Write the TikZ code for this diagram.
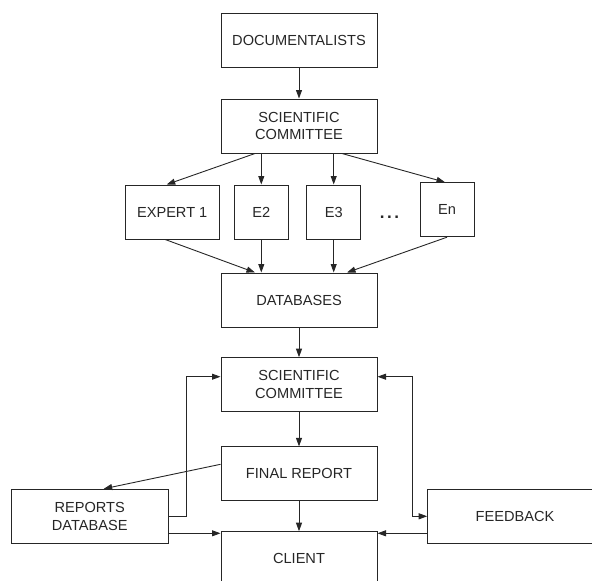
\documentclass[tikz,border=0pt]{standalone}
\usepackage{fontspec}
\setmainfont{Liberation Sans}
\usetikzlibrary{arrows.meta,positioning}

\begin{document}
\begin{tikzpicture}[x=1pt, y=-1pt,
    box/.style={draw=black!85, line width=1pt, minimum width=156pt, minimum height=54pt, inner sep=2pt, align=center, text=black!85, font=\fontsize{14.6}{17.6}\selectfont},
    arr/.style={-{Triangle[length=8.5pt, width=6pt]}, line width=0.9pt, draw=black!85},
    biarr/.style={{Triangle[length=8.5pt, width=6pt]}-{Triangle[length=8.5pt, width=6pt]}, line width=0.9pt, draw=black!85}
]
\clip (0,0) rectangle (592,581);
% top chain
\node[box] (doc) at (299,40) {DOCUMENTALISTS};
\node[box] (sc1) at (299,126) {SCIENTIFIC\\COMMITTEE};
\node[box, minimum width=94pt] (e1) at (172.2,212) {EXPERT 1};
\node[box, minimum width=54pt] (e2) at (261.3,212) {E2};
\node[box, minimum width=54pt] (e3) at (333.7,212) {E3};
\node[inner sep=0pt, anchor=base, text=black!85, font=\fontsize{17}{17}\selectfont\bfseries] (dots) at (389.5,218.5) {.\hspace{2.6pt}.\hspace{2.6pt}.};
\node[box, minimum width=54pt] (en) at (447,209.7) {En};
\node[box] (db) at (299,300) {DATABASES};
% bottom part
\node[box] (sc2) at (299,384.7) {SCIENTIFIC\\COMMITTEE};
\node[box] (fin) at (299,473.9) {FINAL REPORT};
\node[box, minimum width=157pt] (rep) at (89.7,516.3) {REPORTS\\DATABASE};
\node[box, minimum width=170pt, text width=150pt, align=left] (fb) at (512.7,516.3) {\hspace{38pt}FEEDBACK};
\node[box] (client) at (299,558.7) {CLIENT};

\draw[arr] (doc) -- (sc1);
\draw[arr] ([xshift=-44pt]sc1.south) -- ([xshift=-5.5pt]e1.north);
\draw[arr] (e2.north |- sc1.south) -- (e2.north);
\draw[arr] (e3.north |- sc1.south) -- (e3.north);
\draw[arr] ([xshift=43pt]sc1.south) -- ([xshift=-2pt]en.north);
\draw[arr] ([xshift=-7pt]e1.south) -- ([xshift=-44pt]db.north);
\draw[arr] (e2.south) -- (e2.south |- db.north);
\draw[arr] (e3.south) -- (e3.south |- db.north);
\draw[arr] (en.south) -- ([xshift=48pt]db.north);
\draw[arr] (db) -- (sc2);
\draw[arr] (sc2) -- (fin);
\draw[arr] (fin) -- (client);
\draw[arr] ([yshift=9.6pt]fin.west) -- ([xshift=14pt]rep.north);
\draw[arr] (rep.east) -- ++(17.7,0) |- ([yshift=8pt]sc2.west);
\draw[arr] ([yshift=-17pt]rep.east) -- ([yshift=-17pt]rep.east -| client.west);
\draw[biarr] ([yshift=8pt]sc2.east) -- ++(34.5,0) |- (fb.west);
\draw[arr] ([yshift=-17pt]fb.west) -- ([yshift=-17pt]fb.west -| client.east);
\end{tikzpicture}
\end{document}
